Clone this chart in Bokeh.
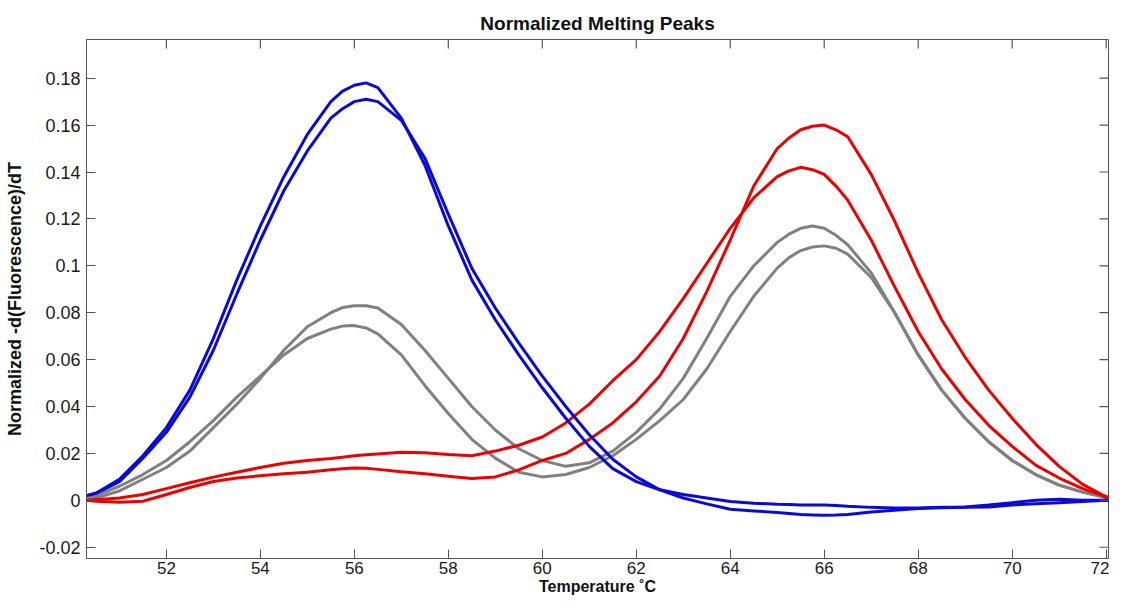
from bokeh.plotting import figure
from bokeh.models import Range1d, FixedTicker, CustomJSTickFormatter, ColumnDataSource
from bokeh.embed import file_html
from bokeh.resources import INLINE
import math

temperature = [50.3, 50.5, 51.0, 51.5, 52.0, 52.5, 53.0, 53.5, 54.0, 54.5, 55.0, 55.5, 55.75,
               56.0, 56.25, 56.5, 57.0, 57.5, 58.0, 58.5, 59.0, 59.5, 60.0, 60.5, 61.0, 61.5,
               62.0, 62.5, 63.0, 63.5, 64.0, 64.5, 65.0, 65.25, 65.5, 65.75, 66.0, 66.25, 66.5, 67.0, 67.5,
               68.0, 68.5, 69.0, 69.5, 70.0, 70.5, 71.0, 71.5, 72.0, 72.2]

blue_1 = [0.002, 0.003, 0.009, 0.019, 0.031, 0.047, 0.069, 0.094, 0.117, 0.138, 0.156, 0.170, 0.1745,
          0.177, 0.178, 0.176, 0.163, 0.143, 0.117, 0.094, 0.077, 0.062, 0.048, 0.035, 0.023, 0.0135,
          0.008, 0.0045, 0.0025, 0.001, -0.0005, -0.0012, -0.0017, -0.0018, -0.002, -0.002, -0.002, -0.0022, -0.0025, -0.003, -0.0033,
          -0.0033, -0.003, -0.0028, -0.002, -0.001, 0.0, 0.0005, 0.0, 0.0, 0.0]

blue_2 = [0.002, 0.003, 0.008, 0.018, 0.029, 0.044, 0.064, 0.088, 0.111, 0.132, 0.149, 0.163, 0.167,
          0.170, 0.171, 0.170, 0.162, 0.146, 0.122, 0.099, 0.082, 0.067, 0.053, 0.040, 0.028, 0.0175,
          0.010, 0.0045, 0.001, -0.0015, -0.0038, -0.0045, -0.0052, -0.0056, -0.006, -0.0062, -0.0064, -0.0063, -0.006, -0.005, -0.0042,
          -0.0035, -0.0032, -0.003, -0.0028, -0.002, -0.0015, -0.001, -0.0005, 0.0, 0.0]

gray_1 = [0.0, 0.001, 0.004, 0.009, 0.014, 0.021, 0.031, 0.041, 0.052, 0.064, 0.074, 0.080, 0.0822,
          0.083, 0.083, 0.082, 0.075, 0.064, 0.052, 0.040, 0.030, 0.022, 0.017, 0.0145, 0.016, 0.021,
          0.029, 0.039, 0.052, 0.069, 0.087, 0.100, 0.110, 0.1135, 0.116, 0.117, 0.116, 0.113, 0.109, 0.097, 0.080,
          0.062, 0.047, 0.035, 0.025, 0.017, 0.011, 0.0065, 0.0035, 0.0012, 0.0008]

gray_2 = [0.0005, 0.002, 0.006, 0.011, 0.017, 0.025, 0.034, 0.044, 0.053, 0.062, 0.069, 0.073, 0.0743,
          0.0745, 0.0735, 0.071, 0.062, 0.049, 0.037, 0.026, 0.018, 0.012, 0.010, 0.011, 0.014, 0.019,
          0.026, 0.034, 0.043, 0.056, 0.072, 0.087, 0.099, 0.1035, 0.1065, 0.108, 0.1085, 0.1075, 0.105, 0.095, 0.080,
          0.062, 0.047, 0.035, 0.025, 0.017, 0.011, 0.0065, 0.0035, 0.0012, 0.0008]

red_1 = [0.0, 0.0003, 0.001, 0.0025, 0.005, 0.0075, 0.0099, 0.012, 0.014, 0.0158, 0.017, 0.0178, 0.0184,
         0.019, 0.0194, 0.0198, 0.0205, 0.0203, 0.0195, 0.019, 0.021, 0.0235, 0.027, 0.033, 0.041, 0.051,
         0.060, 0.072, 0.086, 0.101, 0.116, 0.129, 0.138, 0.1405, 0.142, 0.141, 0.139, 0.134, 0.128, 0.111, 0.091,
         0.072, 0.056, 0.043, 0.032, 0.023, 0.015, 0.0095, 0.005, 0.0015, 0.0008]

red_2 = [0.0, -0.0004, -0.0008, -0.0004, 0.0025, 0.0055, 0.008, 0.0095, 0.0105, 0.0113, 0.012, 0.013, 0.0135,
         0.0138, 0.0137, 0.0132, 0.0122, 0.0113, 0.0103, 0.0093, 0.010, 0.013, 0.017, 0.020, 0.026, 0.033,
         0.042, 0.053, 0.069, 0.089, 0.111, 0.134, 0.150, 0.1545, 0.158, 0.1595, 0.160, 0.158, 0.155, 0.139, 0.119,
         0.097, 0.077, 0.061, 0.047, 0.035, 0.024, 0.0145, 0.0068, 0.0015, 0.001]

x_ticks = [52, 54, 56, 58, 60, 62, 64, 66, 68, 70, 72]
y_ticks = [-0.02, 0.0, 0.02, 0.04, 0.06, 0.08, 0.10, 0.12, 0.14, 0.16, 0.18]

FONT = "Liberation Sans"
AXIS_COLOR = "#555555"

x_range = Range1d(50.3, 72.05)
y_range = Range1d(-0.0248, 0.1965)

source = ColumnDataSource(dict(t=temperature, b1=blue_1, b2=blue_2, g1=gray_1, g2=gray_2,
                               r1=red_1, r2=red_2))

p = figure(width=1109, height=599, output_backend="svg", toolbar_location=None,
           x_range=x_range, y_range=y_range,
           title="Normalized Melting Peaks",
           min_border_left=86, min_border_right=1, min_border_top=39, min_border_bottom=41)

p.background_fill_color = "white"
p.border_fill_color = "white"
p.outline_line_color = AXIS_COLOR
p.outline_line_width = 1
p.grid.visible = False

p.title.text_font = FONT
p.title.text_font_size = "19px"
p.title.text_font_style = "bold"
p.title.text_color = "#111111"
p.title.align = "center"
p.title.standoff = 11

for col, color in [("g1", "#808080"), ("g2", "#808080"), ("r1", "#ee0000"), ("r2", "#ee0000"),
                   ("b1", "#0a0ad8"), ("b2", "#0a0ad8")]:
    p.line("t", col, source=source, line_color=color, line_width=3)

# inward ticks on the top and right edges of the box (half of each dash is clipped by the frame)
p.scatter(x=x_ticks, y=[y_range.end] * len(x_ticks), marker="dash", angle=math.pi / 2,
          size=18, line_color=AXIS_COLOR, line_width=1.2)
p.scatter(x=[x_range.end] * len(y_ticks), y=y_ticks, marker="dash", angle=0,
          size=18, line_color=AXIS_COLOR, line_width=1.2)

fmt_y = CustomJSTickFormatter(code="return tick.toFixed(2).replace(/0+$/, '').replace(/\\.$/, '');")

def style_axis(ax):
    ax.axis_line_color = AXIS_COLOR
    ax.major_tick_line_color = AXIS_COLOR
    ax.major_tick_in = 9
    ax.major_tick_out = 0
    ax.minor_tick_line_color = None
    ax.major_label_text_font = FONT
    ax.major_label_text_color = "#1a1a1a"
    ax.major_label_text_font_size = "17px"
    ax.axis_label_text_font = FONT
    ax.axis_label_text_font_style = "bold"
    ax.axis_label_text_color = "#111111"

xa = p.xaxis[0]
xa.ticker = FixedTicker(ticks=x_ticks)
style_axis(xa)
xa.axis_label = "Temperature ˚C"
xa.axis_label_text_font_size = "16px"
xa.major_label_standoff = 3
xa.axis_label_standoff = 1

ya = p.yaxis[0]
ya.ticker = FixedTicker(ticks=y_ticks)
ya.formatter = fmt_y
style_axis(ya)
ya.major_label_text_font_size = "18px"
ya.axis_label = "Normalized -d(Fluorescence)/dT"
ya.axis_label_text_font_size = "18px"
ya.major_label_standoff = 6
ya.axis_label_standoff = 11

open("out.html", "w").write(file_html(p, INLINE))
